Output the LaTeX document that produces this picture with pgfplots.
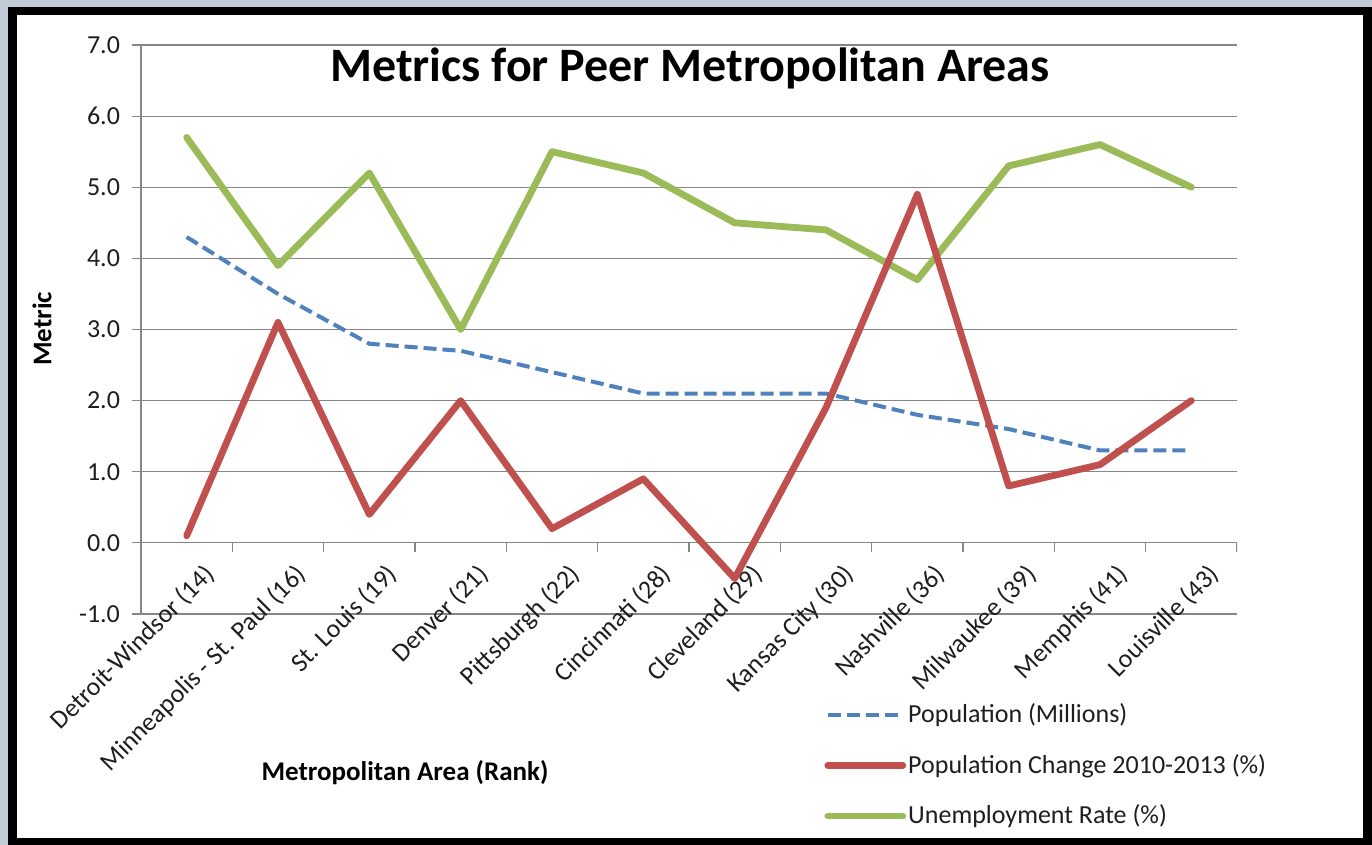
\documentclass[border=0pt]{standalone}
\usepackage{pgfplots}
\pgfplotsset{compat=1.18}
\usepackage{fontspec}
\setmainfont{Carlito}
\definecolor{popblue}{RGB}{79,129,189}
\definecolor{chgred}{RGB}{192,80,77}
\definecolor{unemgreen}{RGB}{155,187,89}
\definecolor{gridgray}{RGB}{134,134,134}
\definecolor{outerbg}{RGB}{192,203,216}
\definecolor{txt}{RGB}{30,30,30}
\begin{document}
\begin{tikzpicture}
\fill[outerbg] (0,0) rectangle (686pt,422.5pt);
\fill[black] (4pt,0) rectangle (686pt,419pt);
\fill[white] (8.5pt,3.5pt) rectangle (681.5pt,415pt);
\begin{axis}[
  at={(70.5pt,115.5pt)}, anchor=south west,
  scale only axis, width=548pt, height=284.5pt,
  xmin=-0.5, xmax=11.5, ymin=-1, ymax=7,
  axis x line=middle, axis y line=left,
  axis line style={-, gridgray, line width=0.6pt},
  ytick={-1,0,...,7},
  ymajorgrids, grid style={gridgray, line width=0.6pt},
  tick align=outside, major tick length=4.5pt,
  ytick style={gridgray, line width=0.6pt},
  yticklabel style={/pgf/number format/fixed, /pgf/number format/fixed zerofill,
    /pgf/number format/precision=1, /pgf/number format/assume math mode=true,
    font=\fontsize{13}{15}\selectfont, text=txt, xshift=-2.5pt},
  xtick={0,...,11},
  xtick style={draw=none},
  xticklabels={Detroit-Windsor (14),Minneapolis - St. Paul (16),St. Louis (19),Denver (21),Pittsburgh (22),Cincinnati (28),Cleveland (29),Kansas City (30),Nashville (36),Milwaukee (39),Memphis (41),Louisville (43)},
  xticklabel style={rotate=45, anchor=north east, font=\fontsize{13}{15}\selectfont, text=txt, xshift=3pt, yshift=-8pt, inner sep=1pt},
  legend style={at={(0.6232,-0.1535)}, anchor=north west, draw=none, fill=none,
    font=\fontsize{13}{15}\selectfont, text=txt, row sep=12.3pt, column sep=0pt,
    inner sep=0pt, nodes={inner sep=1pt}, cells={anchor=west}},
  legend image code/.code={\draw[#1] (0pt,0pt) -- (37.5pt,0pt);},
  line join=round,
]
\addlegendimage{popblue, line width=2pt, dash pattern=on 6.5pt off 3pt}
\addlegendentry{Population (Millions)}
\addlegendimage{chgred, line width=3.4pt, line cap=round}
\addlegendentry{Population Change 2010-2013 (\%)}
\addlegendimage{unemgreen, line width=3.4pt, line cap=round}
\addlegendentry{Unemployment Rate (\%)}
\addplot[popblue, line width=2pt, dash pattern=on 6.5pt off 3pt, forget plot] coordinates {
 (0,4.3) (1,3.5) (2,2.8) (3,2.7) (4,2.4) (5,2.1) (6,2.1) (7,2.1) (8,1.8) (9,1.6) (10,1.3) (11,1.3)};
\addplot[unemgreen, line width=3.4pt, line cap=round, forget plot] coordinates {
 (0,5.7) (1,3.9) (2,5.2) (3,3.0) (4,5.5) (5,5.2) (6,4.5) (7,4.4) (8,3.7) (9,5.3) (10,5.6) (11,5.0)};
\addplot[chgred, line width=3.4pt, line cap=round, forget plot] coordinates {
 (0,0.1) (1,3.1) (2,0.4) (3,2.0) (4,0.2) (5,0.9) (6,-0.5) (7,1.9) (8,4.9) (9,0.8) (10,1.1) (11,2.0)};
\pgfplotsinvokeforeach{0.5,1.5,2.5,3.5,4.5,5.5,6.5,7.5,8.5,9.5,10.5,11.5}{
  \draw[gridgray, line width=0.6pt] (axis cs:#1,0) -- ++(0pt,-4.5pt);
}
\end{axis}
\node[font=\fontsize{24}{28}\selectfont\bfseries, text=black] at (345pt,388.5pt) {Metrics for Peer Metropolitan Areas};
\node[font=\fontsize{13.5}{16}\selectfont\bfseries, text=black, rotate=90] at (21pt,258pt) {Metric};
\node[font=\fontsize{13.5}{16}\selectfont\bfseries, text=black] at (202.5pt,36pt) {Metropolitan Area (Rank)};
\end{tikzpicture}
\end{document}
